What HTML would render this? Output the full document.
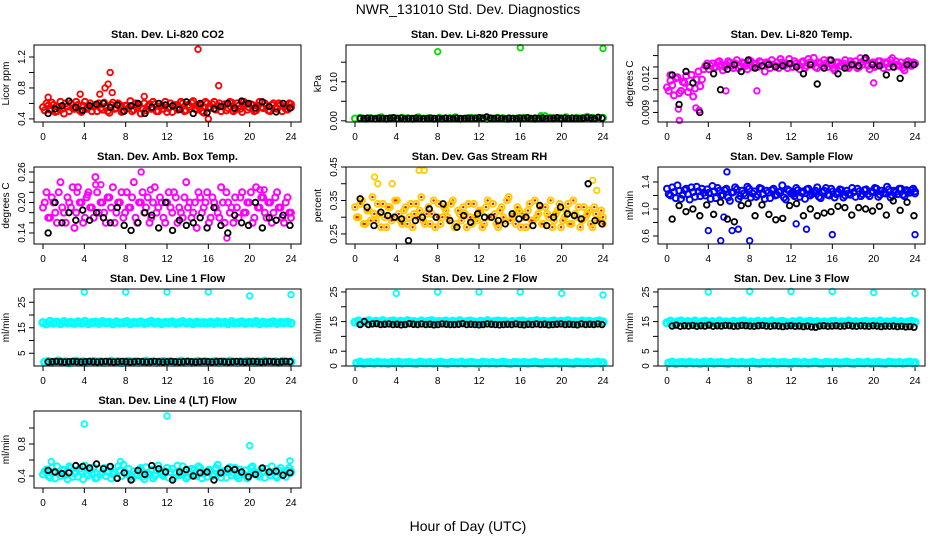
<!DOCTYPE html>
<html><head><meta charset="utf-8"><style>
html,body{margin:0;padding:0;background:#fff;}
svg{display:block;font-family:"Liberation Sans",sans-serif;}
</style></head><body>
<svg id="chart" width="936" height="540" viewBox="0 0 936 540">
<text x="468" y="14" text-anchor="middle" font-size="14">NWR_131010  Std. Dev. Diagnostics</text>
<text x="468" y="531" text-anchor="middle" font-size="14">Hour of Day (UTC)</text>
</svg>
<script>
// ---- data ----
const hourTicks = [0,4,8,12,16,20,24];
const co2Values = [0.55,0.6,0.52,0.58,0.5,0.62,0.47,0.56,0.6,0.53,0.58,0.49,0.62,0.55,0.5,0.57,0.6,0.52,0.56,0.48,0.61,0.54,0.58,0.5,0.57,0.63,0.52,0.55,0.47,0.6,0.56,0.53,0.59,0.5,0.57,0.62,0.54,0.49,0.58,0.55,0.6,0.51,0.56,0.63,0.52,0.58,0.48,0.6,0.55,0.62,0.57,0.5,0.59,0.54,0.61,0.52,0.57,0.49,0.6,0.55,0.58,0.51,0.62,0.54,0.57,0.5,0.6,0.53,0.58,0.56,0.52,0.59];
const co2Values2 = [0.51,0.57,0.61,0.49,0.55,0.53,0.6,0.5,0.54,0.62,0.51,0.57,0.53,0.6,0.56,0.5,0.54,0.61,0.5,0.58,0.53,0.6,0.49,0.57,0.54,0.5,0.6,0.58,0.53,0.51,0.59,0.62,0.5,0.56,0.53,0.49,0.6,0.57,0.52,0.62,0.5,0.58,0.61,0.53,0.56,0.5,0.62,0.54,0.59,0.52,0.6,0.56,0.51,0.62,0.5,0.6,0.53,0.62,0.52,0.59,0.5,0.57,0.55,0.6,0.51,0.58,0.54,0.6,0.5,0.53,0.6,0.55];
const co2Black = [0.47,0.53,0.57,0.63,0.55,0.51,0.57,0.59,0.6,0.55,0.58,0.5,0.57,0.6,0.47,0.55,0.6,0.58,0.57,0.52,0.62,0.47,0.6,0.48,0.53,0.56,0.6,0.54,0.63,0.6,0.54,0.62,0.56,0.49,0.6,0.54];
const co2OutHours = [15,6.5,6.3,6.0,5.5,6.7,17,3.6,16,0.5,9.8];
const co2OutValues = [1.3,1.0,0.85,0.8,0.72,0.74,0.83,0.72,0.4,0.68,0.69];

const presValues = [0.006,0.008,0.005,0.007,0.006,0.009,0.005,0.007,0.006,0.008,0.007,0.005,0.009,0.006,0.007,0.005,0.008,0.006,0.007,0.009,0.005,0.006,0.008,0.006,0.007,0.005,0.006,0.008,0.007,0.005,0.006,0.007,0.008,0.006,0.005,0.007,0.012,0.008,0.006,0.007,0.009,0.006,0.008,0.007,0.01,0.008,0.007,0.008];
const presBlack = [0.006,0.006,0.007,0.006,0.005,0.007,0.006,0.006,0.007,0.008,0.006,0.007,0.005,0.006,0.006,0.007,0.006,0.005,0.006,0.007,0.006,0.006,0.005,0.007,0.006,0.006,0.007,0.006,0.006,0.007,0.006,0.007,0.008,0.007,0.01,0.007,0.006,0.007,0.006,0.005,0.007,0.006,0.006,0.007,0.006,0.008,0.006,0.007,0.006,0.007,0.006,0.006,0.007,0.008,0.006,0.007,0.006,0.007,0.006,0.006,0.007,0.008,0.007,0.006,0.009,0.007];
const presOutHours = [8,16,24,18];
const presOutValues = [0.177,0.187,0.185,0.013];

const tempValues = [0.0112,0.0118,0.0105,0.0121,0.0109,0.0116,0.0108,0.0123,0.0111,0.0126,0.0119,0.0131,0.0128,0.0133,0.0130,0.0135,0.0127,0.0132,0.0134,0.0129,0.0136,0.0131,0.0133,0.0128,0.0135,0.0132,0.0130,0.0134,0.0126,0.0133,0.0136,0.0131,0.0129,0.0134,0.0132,0.0137,0.0130,0.0133,0.0128,0.0135,0.0131,0.0134,0.0138,0.0129,0.0133,0.0136,0.0130,0.0132,0.0127,0.0134,0.0131,0.0136,0.0129,0.0133,0.0135,0.0130,0.0132,0.0137,0.0128,0.0134,0.0131,0.0135,0.0129,0.0133,0.0136,0.0130,0.0132,0.0134,0.0127,0.0135,0.0131,0.0133];
const tempValues2 = [0.0109,0.0114,0.0120,0.0107,0.0117,0.0122,0.0112,0.0104,0.0119,0.0113,0.0128,0.0133,0.0131,0.0129,0.0134,0.0132,0.0130,0.0135,0.0131,0.0133,0.0129,0.0134,0.0131,0.0136,0.0130,0.0133,0.0135,0.0131,0.0134,0.0129,0.0132,0.0134,0.0137,0.0131,0.0129,0.0133,0.0135,0.0131,0.0134,0.0129,0.0137,0.0132,0.0130,0.0134,0.0131,0.0133,0.0136,0.0129,0.0134,0.0131,0.0133,0.0130,0.0135,0.0132,0.0129,0.0134,0.0136,0.0131,0.0133,0.0130,0.0135,0.0132,0.0134,0.0130,0.0133,0.0135,0.0131,0.0129,0.0134,0.0132,0.0134,0.0133];
const tempBlack = [0.0123,0.0097,0.0126,0.0116,0.009,0.0131,0.0124,0.0110,0.0128,0.0132,0.0126,0.0136,0.0129,0.0131,0.0132,0.0130,0.0131,0.0133,0.0130,0.0124,0.0132,0.0115,0.0129,0.0136,0.0124,0.0129,0.0132,0.0131,0.0138,0.0132,0.0131,0.0123,0.0130,0.0120,0.0132,0.0132];
const tempOutHours = [1.2,0.3,3.1,5.7,8.7,21.8,20,18.7,1.1,2.8];
const tempOutValues = [0.0083,0.0123,0.0092,0.0109,0.0109,0.0138,0.0116,0.0138,0.0093,0.0094];

const boxValues = [0.19,0.22,0.17,0.2,0.16,0.24,0.18,0.21,0.19,0.15,0.23,0.2,0.17,0.22,0.19,0.25,0.18,0.2,0.16,0.21,0.23,0.18,0.2,0.17,0.22,0.19,0.24,0.16,0.2,0.18,0.21,0.17,0.23,0.19,0.2,0.16,0.22,0.18,0.21,0.19,0.17,0.24,0.2,0.18,0.15,0.21,0.19,0.22,0.17,0.2,0.18,0.23,0.16,0.2,0.19,0.21,0.17,0.22,0.18,0.2,0.16,0.23,0.19,0.21,0.17,0.2,0.18,0.22,0.19,0.16,0.21,0.18];
const boxValues2 = [0.2,0.17,0.21,0.18,0.22,0.19,0.16,0.2,0.23,0.18,0.2,0.16,0.21,0.19,0.17,0.22,0.2,0.18,0.21,0.19,0.16,0.2,0.22,0.18,0.19,0.21,0.17,0.2,0.22,0.19,0.16,0.2,0.18,0.21,0.17,0.2,0.19,0.22,0.16,0.18,0.21,0.19,0.17,0.2,0.22,0.18,0.2,0.16,0.21,0.19,0.17,0.2,0.22,0.18,0.16,0.19,0.21,0.18,0.2,0.22,0.17,0.19,0.21,0.18,0.2,0.16,0.21,0.19,0.17,0.2,0.18,0.17];
const boxBlack = [0.14,0.2,0.16,0.18,0.165,0.185,0.165,0.18,0.17,0.16,0.19,0.155,0.145,0.16,0.18,0.175,0.15,0.2,0.145,0.165,0.155,0.16,0.17,0.15,0.19,0.155,0.14,0.175,0.16,0.155,0.2,0.15,0.17,0.165,0.175,0.155];
const boxOutHours = [5.1,5.6,9.5,3.3,4.3,17.8,10.4,21,21.4];
const boxOutValues = [0.235,0.235,0.26,0.22,0.215,0.13,0.225,0.225,0.225];

const rhValues = [0.33,0.3,0.35,0.28,0.32,0.36,0.29,0.31,0.34,0.27,0.33,0.3,0.35,0.29,0.32,0.28,0.34,0.31,0.3,0.36,0.28,0.33,0.31,0.27,0.34,0.3,0.32,0.29,0.35,0.28,0.31,0.33,0.27,0.3,0.34,0.29,0.32,0.28,0.35,0.3,0.31,0.27,0.33,0.29,0.36,0.3,0.28,0.32,0.31,0.27,0.34,0.29,0.3,0.33,0.28,0.31,0.35,0.29,0.32,0.27,0.3,0.34,0.28,0.31,0.33,0.29,0.3,0.32,0.27,0.31,0.29,0.3];
const rhValues2 = [0.3,0.34,0.28,0.32,0.29,0.31,0.34,0.27,0.3,0.33,0.29,0.35,0.31,0.28,0.33,0.3,0.27,0.34,0.32,0.29,0.31,0.28,0.35,0.3,0.28,0.33,0.3,0.34,0.27,0.32,0.29,0.31,0.34,0.28,0.3,0.32,0.27,0.33,0.3,0.34,0.28,0.32,0.3,0.35,0.29,0.31,0.33,0.27,0.3,0.32,0.29,0.35,0.31,0.28,0.33,0.3,0.27,0.31,0.34,0.29,0.32,0.28,0.35,0.3,0.27,0.33,0.31,0.28,0.33,0.29,0.32,0.28];
const rhBlack = [0.355,0.33,0.275,0.315,0.305,0.3,0.295,0.23,0.29,0.3,0.325,0.3,0.34,0.29,0.27,0.305,0.285,0.31,0.3,0.3,0.29,0.28,0.31,0.295,0.3,0.275,0.335,0.275,0.3,0.33,0.31,0.305,0.295,0.4,0.29,0.28];
const rhOutHours = [1.9,2.2,3.6,6.2,23,23.4,6.7];
const rhOutValues = [0.42,0.4,0.4,0.44,0.41,0.38,0.44];

const flowValues = [1.3,1.2,1.25,1.35,1.15,1.28,1.22,1.32,1.18,1.26,1.3,1.2,1.24,1.34,1.16,1.27,1.21,1.3,1.12,1.25,1.29,1.19,1.23,1.33,1.17,1.26,1.21,1.3,1.15,1.24,1.28,1.2,1.25,1.35,1.14,1.27,1.22,1.31,1.18,1.26,1.29,1.2,1.24,1.32,1.16,1.27,1.21,1.3,1.17,1.25,1.28,1.2,1.23,1.31,1.18,1.26,1.22,1.29,1.19,1.25,1.3,1.21,1.24,1.33,1.17,1.27,1.22,1.3,1.19,1.26,1.28,1.23];
const flowValues2 = [1.22,1.32,1.16,1.27,1.21,1.3,1.14,1.25,1.33,1.19,1.24,1.29,1.15,1.26,1.31,1.2,1.28,1.17,1.24,1.32,1.15,1.27,1.2,1.3,1.23,1.18,1.31,1.22,1.27,1.16,1.3,1.21,1.26,1.17,1.29,1.23,1.19,1.28,1.24,1.15,1.3,1.22,1.27,1.18,1.25,1.31,1.2,1.26,1.22,1.29,1.17,1.27,1.21,1.25,1.3,1.19,1.28,1.22,1.26,1.31,1.18,1.27,1.23,1.29,1.2,1.25,1.3,1.21,1.28,1.24,1.3,1.26];
const flowBlack = [0.85,1.05,0.96,1.0,0.9,1.06,0.92,1.1,0.85,0.81,1.05,1.08,0.9,1.06,0.92,0.84,0.86,1.05,1.08,0.9,1.0,0.9,0.94,0.96,1.04,1.02,0.91,1.02,1.0,0.97,1.04,0.91,1.12,0.98,1.1,0.9];
const flowOutHours = [5.2,4.0,5.5,6.3,8.0,12.5,13.5,16.0,24.0,5.8,6.9];
const flowOutValues = [0.53,0.68,0.88,0.68,0.53,0.78,0.7,0.62,0.62,1.55,0.7];

const line1Values = [17,16.5,17.5,16.8,17.2,16.6,17.4,16.9,17.1,16.7,17.3,16.8,17.5,16.6,17,17.2,16.7,17.4,16.9,17.1,16.5,17.3,16.8,17,17.4,16.6,17.1,16.9,17.3,16.7,17,17.5,16.8,17.2,16.6,17.1,16.9,17.3,16.7,17,17.4,16.8,17.1,16.6,17.2,16.9,17,16.8,17.2,16.7,17.3,16.9,17.1,16.6,17.4,16.8,17,17.3,16.7,17.1,16.9,17.4,16.6,17.2,16.8,17,17.3,16.7,17.1,16.9,17.2,16.8];
const line1Low = [1.5,1.8,1.4,1.6,2,1.5,1.7,1.3,1.6,1.9,1.5,1.7,1.4,1.6,1.8,1.5,1.7,1.4,1.6,1.9,1.5,1.7,1.3,1.6,1.8,1.5,1.7,1.4,1.6,1.9,1.5,1.7,1.4,1.6,1.8,1.5,1.7,1.4,1.6,1.9,1.5,1.7,1.4,1.6,1.8,1.5,1.7,1.5,1.6,1.8,1.4,1.7,1.5,1.9,1.6,1.4,1.7,1.5,1.8,1.6,1.4,1.7,1.5,1.9,1.6,1.5,1.7,1.4,1.8,1.6,1.5,1.7];
const line1Black = [1.6,1.7,1.8,1.7,1.6,1.7,1.8,1.7,1.6,1.7,1.8,1.7,1.6,1.7,1.8,1.7,1.6,1.7,1.8,1.7,1.6,1.7,1.8,1.7,1.6,1.7,1.8,1.7,1.6,1.7,1.8,1.7,1.6,1.7,1.8,1.7,1.6,1.7,1.8,1.7,1.6,1.7,1.8,1.7,1.6,1.7,1.8,1.7,1.6,1.7,1.8,1.7,1.6,1.7,1.8,1.7,1.6,1.7,1.8,1.7];
const line1OutHours = [4,8,12,16,20,24];
const line1OutValues = [29,29,29,29,27.5,28];

const line2Values = [14.8,15.2,14.6,15,15.3,14.7,15.1,14.9,15.3,14.6,15,15.2,14.8,15.1,14.7,15.3,14.9,15,14.6,15.2,14.8,15.1,15.3,14.7,15,14.9,15.2,14.6,15.1,14.8,15.3,14.7,15,15.2,14.9,14.6,15.1,14.8,15.3,14.7,15,15.2,14.9,15.1,14.6,15,14.8,15.1,15.2,14.7,15,14.9,15.3,14.6,15.1,14.8,15,15.2,14.7,15.1,14.9,15.3,14.6,15,14.8,15.2,14.9,15.1,14.7,15,15.2,14.9];
const line2Low = [1,1.3,0.8,1.1,1.2,0.9,1.3,1,1.1,0.8,1.2,1,1.3,0.9,1.1,1.2,1,0.8,1.3,1.1,1,1.2,0.9,1.1,1.3,1,0.8,1.2,1.1,1,1.3,0.9,1.1,1.2,1,0.8,1.3,1.1,1,1.2,0.9,1.1,1.3,1,0.8,1.2,1.1,1,1.2,0.9,1.1,1.3,1,0.8,1.2,1.1,1,1.3,0.9,1.1,1.2,1,0.8,1.3,1.1,1,1.2,0.9,1.1,1.3,1,1.1];
const line2Black = [14,15,14,14.2,14.3,14,14.1,14.2,14,14.1,13.9,14,14.3,14.1,14,14.2,14,14.1,13.9,14,14.2,14.1,14,14,14.1,14.3,14,14.1,14,13.9,14,14.2,14.1,14,13.9,14,14.1,14,14.2,14,13.9,14.1,14,14.2,14,14.1,13.9,14,14.1,14.2,14,14.1,14,13.9,14.2,14,14.1,14,14.2,14];
const line2OutHours = [4,8,12,16,20,24];
const line2OutValues = [24.5,25,25,25,24.5,24];

const line3Values = [14.6,15.1,14.4,14.9,15.2,14.5,15,14.7,15.2,14.4,14.9,15.1,14.6,15,14.5,15.2,14.7,14.9,14.4,15.1,14.6,15,15.2,14.5,14.9,14.7,15.1,14.4,15,14.6,15.2,14.5,14.9,15.1,14.7,14.4,15,14.6,15.2,14.5,14.9,15.1,14.7,15,14.4,14.9,14.6,15,15.1,14.5,14.9,14.7,15.2,14.4,15,14.6,14.9,15.1,14.5,15,14.7,15.2,14.4,14.9,14.6,15.1,14.7,15,14.5,14.9,15.1,14.8];
const line3Low = [1,1.3,0.8,1.1,1.2,0.9,1.3,1,1.1,0.8,1.2,1,1.3,0.9,1.1,1.2,1,0.8,1.3,1.1,1,1.2,0.9,1.1,1.3,1,0.8,1.2,1.1,1,1.3,0.9,1.1,1.2,1,0.8,1.3,1.1,1,1.2,0.9,1.1,1.3,1,0.8,1.2,1.1,1,1.2,0.9,1.1,1.3,1,0.8,1.2,1.1,1,1.3,0.9,1.1,1.2,1,0.8,1.3,1.1,1,1.2,0.9,1.1,1.3,1,1.1];
const line3Black = [13.5,13.8,13.4,13.6,13.5,13.7,13.4,13.6,13.5,13.8,13.4,13.6,13.5,13.7,13.6,13.4,13.5,13.7,13.6,13.5,13.4,13.6,13.7,13.5,13.4,13.6,13.5,13.3,13.5,13.6,13.4,13.5,13.3,13.5,13.2,13.1,13.5,13.6,13.4,13.5,13.6,13.4,13.5,13.7,13.5,13.4,13.6,13.5,13.4,13.6,13.5,13.3,13.5,13.4,13.5,13.3,13.4,13.2,13.3,13.1];
const line3OutHours = [4,8,12,16,20,24];
const line3OutValues = [25,25.2,25.2,25.2,24.8,24.5];

const line4Values = [0.42,0.48,0.38,0.45,0.52,0.4,0.47,0.36,0.5,0.43,0.39,0.46,0.53,0.41,0.44,0.37,0.49,0.45,0.4,0.51,0.42,0.38,0.47,0.54,0.43,0.39,0.46,0.41,0.5,0.36,0.44,0.48,0.4,0.53,0.42,0.46,0.38,0.49,0.44,0.41,0.52,0.37,0.45,0.47,0.4,0.5,0.43,0.39,0.46,0.42,0.54,0.38,0.45,0.48,0.41,0.5,0.37,0.44,0.47,0.4,0.52,0.43,0.39,0.46,0.49,0.41,0.45,0.38,0.5,0.43,0.47,0.44];
const line4Values2 = [0.46,0.4,0.5,0.37,0.44,0.48,0.41,0.52,0.39,0.45,0.49,0.36,0.43,0.47,0.51,0.38,0.42,0.5,0.46,0.37,0.44,0.52,0.4,0.45,0.49,0.36,0.43,0.48,0.39,0.51,0.42,0.37,0.47,0.44,0.4,0.5,0.45,0.38,0.53,0.42,0.46,0.39,0.49,0.41,0.52,0.37,0.44,0.48,0.4,0.5,0.43,0.46,0.38,0.51,0.44,0.4,0.48,0.42,0.37,0.5,0.45,0.41,0.49,0.38,0.44,0.52,0.4,0.47,0.42,0.39,0.5,0.46];
const line4Black = [0.47,0.45,0.43,0.44,0.53,0.52,0.5,0.55,0.49,0.52,0.37,0.44,0.35,0.47,0.42,0.53,0.49,0.45,0.35,0.45,0.48,0.4,0.44,0.45,0.35,0.44,0.49,0.48,0.45,0.39,0.42,0.5,0.45,0.46,0.41,0.44];
const line4OutHours = [4,12,20,0.8,7.5,23.9];
const line4OutValues = [1.05,1.15,0.78,0.58,0.58,0.59];

// ---- drawing ----
const svg = document.getElementById('chart');
const NS = 'http://www.w3.org/2000/svg';
function mk(tag, attrs, parent){ const e=document.createElementNS(NS,tag); for(const k in attrs) e.setAttribute(k,attrs[k]); (parent||svg).appendChild(e); return e; }

const panels = [
 {key:'co2',title:'Stan. Dev. Li-820 CO2',ylab:'Licor ppm',col:0,row:0,ymin:0.36,ymax:1.355,ticks:[0.4,0.6,0.8,1.0,1.2],labels:['0.4','','0.8','','1.2'],color:'#ff0000',series:[co2Values,co2Values2],black:co2Black,oh:co2OutHours,ov:co2OutValues},
 {key:'pressure',title:'Stan. Dev. Li-820 Pressure',ylab:'kPa',col:1,row:0,ymin:-0.003,ymax:0.194,ticks:[0,0.05,0.1,0.15],labels:['0.00','','0.10',''],color:'#00dd00',series:[presValues],black:presBlack,oh:presOutHours,ov:presOutValues},
 {key:'li820-temp',title:'Stan. Dev. Li-820 Temp.',ylab:'degrees C',col:2,row:0,ymin:0.00816,ymax:0.01493,ticks:[0.009,0.010,0.011,0.012,0.013,0.014],labels:['0.009','','','0.012','',''],color:'#ff00ff',series:[tempValues,tempValues2],black:tempBlack,oh:tempOutHours,ov:tempOutValues},
 {key:'box-temp',title:'Stan. Dev. Amb. Box Temp.',ylab:'degrees C',col:0,row:1,ymin:0.1183,ymax:0.2698,ticks:[0.14,0.16,0.18,0.2,0.22,0.24,0.26],labels:['0.14','','','0.20','','','0.26'],color:'#ff00ff',series:[boxValues,boxValues2],black:boxBlack,oh:boxOutHours,ov:boxOutValues},
 {key:'rh',title:'Stan. Dev. Gas Stream RH',ylab:'percent',col:1,row:1,ymin:0.22,ymax:0.45,ticks:[0.25,0.3,0.35,0.4,0.45],labels:['0.25','','0.35','','0.45'],color:'#ffcc00',inner:'#ff0000',series:[rhValues,rhValues2],black:rhBlack,oh:rhOutHours,ov:rhOutValues},
 {key:'sample-flow',title:'Stan. Dev. Sample Flow',ylab:'ml/min',col:2,row:1,ymin:0.481,ymax:1.622,ticks:[0.6,0.8,1.0,1.2,1.4],labels:['0.6','','1.0','','1.4'],color:'#0000ff',series:[flowValues,flowValues2],black:flowBlack,oh:flowOutHours,ov:flowOutValues},
 {key:'line1',title:'Stan. Dev. Line 1 Flow',ylab:'ml/min',col:0,row:2,ymin:0,ymax:30.2,ticks:[5,10,15,20,25],labels:['5','','15','','25'],color:'#00ffff',series:[line1Values,line1Low],black:line1Black,oh:line1OutHours,ov:line1OutValues,thick:true},
 {key:'line2',title:'Stan. Dev. Line 2 Flow',ylab:'ml/min',col:1,row:2,ymin:0,ymax:26,ticks:[0,5,10,15,20,25],labels:['0','5','','15','','25'],color:'#00ffff',series:[line2Values,line2Low],black:line2Black,oh:line2OutHours,ov:line2OutValues,thick:true},
 {key:'line3',title:'Stan. Dev. Line 3 Flow',ylab:'ml/min',col:2,row:2,ymin:0,ymax:26,ticks:[0,5,10,15,20,25],labels:['0','5','','15','','25'],color:'#00ffff',series:[line3Values,line3Low],black:line3Black,oh:line3OutHours,ov:line3OutValues,thick:true},
 {key:'line4',title:'Stan. Dev. Line 4 (LT) Flow',ylab:'ml/min',col:0,row:3,ymin:0.25,ymax:1.2125,ticks:[0.4,0.6,0.8,1.0],labels:['0.4','','0.8',''],color:'#00ffff',series:[line4Values,line4Values2],black:line4Black,oh:line4OutHours,ov:line4OutValues}
];

panels.forEach(p=>{
  const left = 34 + p.col*312, right = left+267, top = 45 + p.row*122, bottom = top+77;
  const xs = h => left + 9 + h*(248/24);
  const ys = v => bottom - (v - p.ymin)/(p.ymax - p.ymin)*(bottom-top);
  const g = mk('g',{});
  
  
  const t = mk('text',{x:(left+right)/2,y:top-7,'text-anchor':'middle','font-size':'11','font-weight':'bold'},g);
  t.textContent = p.title;
  
  
  const yl = mk('text',{x:0,y:0,'text-anchor':'middle','font-size':'10',transform:`translate(${left-25},${(top+bottom)/2}) rotate(-90)`},g);
  yl.textContent = p.ylab;
  
  
  hourTicks.forEach(h=>{
    mk('line',{x1:xs(h),x2:xs(h),y1:bottom,y2:bottom+5,stroke:'#000','stroke-width':1},g);
    const tl = mk('text',{x:xs(h),y:bottom+18,'text-anchor':'middle','font-size':'10'},g);
    tl.textContent = h;
    
    
  });
  p.ticks.forEach((v,i)=>{
    const y = ys(v);
    mk('line',{x1:left-5,x2:left,y1:y,y2:y,stroke:'#000','stroke-width':1},g);
    if(p.labels[i]){
      const tl = mk('text',{x:0,y:0,'text-anchor':'middle','font-size':'10',transform:`translate(${left-9},${y}) rotate(-90)`},g);
      tl.textContent = p.labels[i];
      
      
    }
  });
  const r = p.thick ? 3.3 : 3;
  const sw = p.thick ? 2.6 : 2;
  p.series.forEach((arr,si)=>{
    arr.forEach((v,i)=>{
      const h = Math.min(24, (i + (si%2)*0.5)*24/(arr.length-1));
      const c = mk('circle',{cx:xs(h),cy:ys(v),r:r,fill:'none',stroke:p.color,'stroke-width':sw},g);
      
      
      if(p.inner){ mk('circle',{cx:xs(h),cy:ys(v),r:1.2,fill:p.inner},g); }
    });
  });
  p.oh.forEach((h,i)=>{
    const c = mk('circle',{cx:xs(h),cy:ys(p.ov[i]),r:2.8,fill:'none',stroke:p.color,'stroke-width':1.8},g);
    
    
  });
  p.black.forEach((v,i)=>{
    const h = 0.5 + i*23.4/(p.black.length-1);
    const c = mk('circle',{cx:xs(h),cy:ys(v),r:2.8,fill:'none',stroke:'#000','stroke-width':1.8},g);
    
    
  });
  const box = mk('rect',{x:left,y:top,width:right-left,height:bottom-top,fill:'none',stroke:'#000','stroke-width':1},g);
  
  
});
</script>
</body></html>
